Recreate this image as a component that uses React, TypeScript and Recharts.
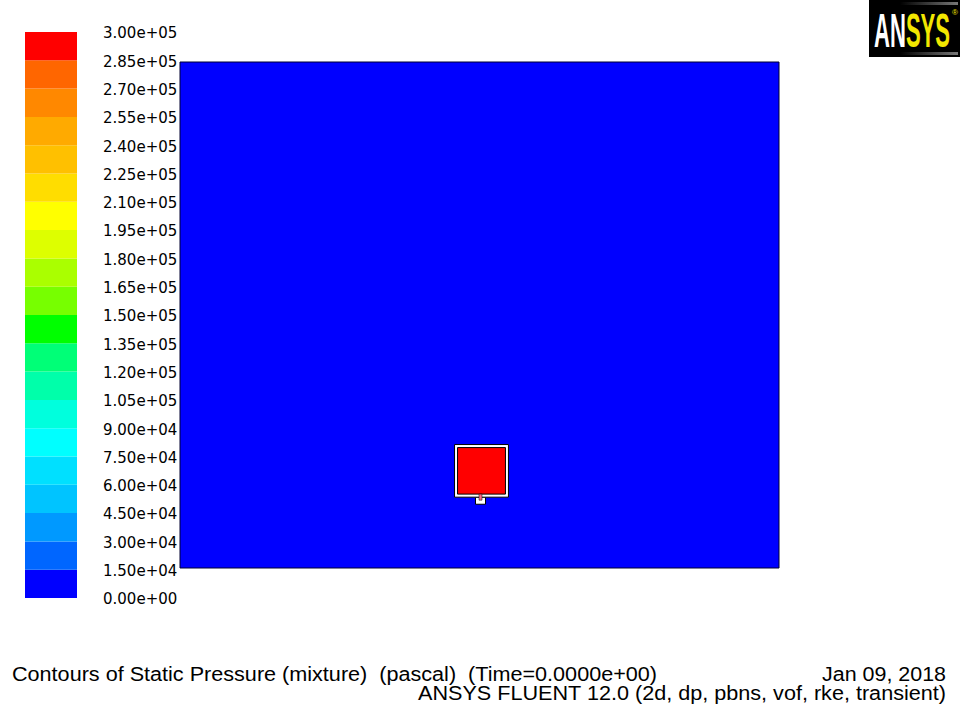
import React from 'react';
import { BarChart, Bar, XAxis, YAxis, ComposedChart, ReferenceArea } from 'recharts';

// contour levels (pascal), low to high
const LEVELS = [
  0, 15000, 30000, 45000, 60000, 75000, 90000, 105000, 120000, 135000, 150000,
  165000, 180000, 195000, 210000, 225000, 240000, 255000, 270000, 285000, 300000,
];
const LEVEL_LABELS = [
  '0.00e+00', '1.50e+04', '3.00e+04', '4.50e+04', '6.00e+04', '7.50e+04', '9.00e+04',
  '1.05e+05', '1.20e+05', '1.35e+05', '1.50e+05', '1.65e+05', '1.80e+05', '1.95e+05',
  '2.10e+05', '2.25e+05', '2.40e+05', '2.55e+05', '2.70e+05', '2.85e+05', '3.00e+05',
];
// band colours, lowest band first
const BAND_COLORS = [
  '#0000ff', '#0066ff', '#0099ff', '#00c4ff', '#00e0ff', '#00ffff', '#00ffdd',
  '#00ffaa', '#00ff77', '#00ff00', '#77ff00', '#aaff00', '#ddff00', '#ffff00',
  '#ffdd00', '#ffc000', '#ffaa00', '#ff8800', '#ff6600', '#ff0000',
];

// geometry (mm)
const TANK_X = [0, 600];
const TANK_Y = [0, 500];
const BLOCK_X = [275, 329];
const BLOCK_Y = [70, 122];
const BLOCK_INNER_X = [278, 326];
const BLOCK_INNER_Y = [73, 119];
const NOZZLE_X = [296, 306];
const NOZZLE_Y = [63, 70];
const NOZZLE_CORE_X = [299.5, 302.5];
const NOZZLE_CORE_Y = [67, 73];

const TANK_PRESSURE = 0;
const BLOCK_PRESSURE = 300000;

const TITLE = 'Contours of Static Pressure (mixture)  (pascal)  (Time=0.0000e+00)';
const DATE = 'Jan 09, 2018';
const VERSION = 'ANSYS FLUENT 12.0 (2d, dp, pbns, vof, rke, transient)';

const bandRow: Record<string, number | string> = { name: 'p' };
BAND_COLORS.forEach((_, i) => {
  bandRow[`b${i}`] = LEVELS[i + 1] - LEVELS[i];
});
const bandData = [bandRow];

const colorFor = (p: number) => {
  const idx = LEVELS.findIndex((l, i) => i < LEVELS.length - 1 && p >= l && p <= LEVELS[i + 1]);
  return BAND_COLORS[Math.min(Math.max(idx, 0), BAND_COLORS.length - 1)];
};

const labelFor = (v: number) => LEVEL_LABELS[LEVELS.indexOf(v)] ?? '';

const App: React.FC = () => {
  return (
    <div style={{ position: 'absolute', left: 0, top: 0, width: 960, height: 720, background: '#fff', overflow: 'hidden' }}>
      <div style={{ position: 'absolute', left: 0, top: 0 }}>
        <BarChart
          width={200}
          height={720}
          data={bandData}
          margin={{ top: 32, right: 0, bottom: 122, left: 25 }}
          barCategoryGap={0}
        >
          <XAxis dataKey="name" type="category" hide />
          <YAxis
            orientation="right"
            type="number"
            domain={[0, 300000]}
            ticks={LEVELS}
            interval={0}
            width={123}
            axisLine={false}
            tickLine={false}
            tickSize={0}
            tickMargin={26}
            tickFormatter={labelFor}
            tick={{ fill: '#000', fontSize: 15, fontFamily: 'DejaVu Sans', dy: 1 }}
          />
          {BAND_COLORS.map((c, i) => (
            <Bar key={i} dataKey={`b${i}`} stackId="s" fill={c} isAnimationActive={false} />
          ))}
        </BarChart>
      </div>

      <div style={{ position: 'absolute', left: 0, top: 0 }}>
        <ComposedChart width={960} height={720} margin={{ top: 62, right: 181, bottom: 152, left: 180 }}>
          <XAxis type="number" dataKey="x" domain={TANK_X} hide allowDataOverflow />
          <YAxis type="number" dataKey="y" domain={TANK_Y} hide allowDataOverflow />
          <ReferenceArea x1={TANK_X[0]} x2={TANK_X[1]} y1={TANK_Y[0]} y2={TANK_Y[1]}
            fill={colorFor(TANK_PRESSURE)} fillOpacity={1} stroke="#000030" strokeWidth={1} />
          <ReferenceArea x1={NOZZLE_X[0]} x2={NOZZLE_X[1]} y1={NOZZLE_Y[0]} y2={NOZZLE_Y[1]}
            fill="#ffffff" fillOpacity={1} stroke="#000" strokeWidth={1} />
          <ReferenceArea x1={BLOCK_X[0]} x2={BLOCK_X[1]} y1={BLOCK_Y[0]} y2={BLOCK_Y[1]}
            fill="#ffffff" fillOpacity={1} stroke="#000" strokeWidth={1} />
          <ReferenceArea x1={BLOCK_INNER_X[0]} x2={BLOCK_INNER_X[1]} y1={BLOCK_INNER_Y[0]} y2={BLOCK_INNER_Y[1]}
            fill={colorFor(BLOCK_PRESSURE)} fillOpacity={1} stroke="#000" strokeWidth={1} />
          <ReferenceArea x1={NOZZLE_CORE_X[0]} x2={NOZZLE_CORE_X[1]} y1={NOZZLE_CORE_Y[0]} y2={NOZZLE_CORE_Y[1]}
            fill="#ff6a8a" fillOpacity={1} stroke="#000" strokeWidth={0.5} />
        </ComposedChart>
      </div>

      <svg width={960} height={720} style={{ position: 'absolute', left: 0, top: 0, pointerEvents: 'none' }}>
        <defs>
          <linearGradient id="logoBar" x1="0" y1="0" x2="1" y2="0">
            <stop offset="0%" stopColor="#000" />
            <stop offset="100%" stopColor="#777" />
          </linearGradient>
        </defs>
        <rect x={869} y={0} width={91} height={57} fill="#000" />
        <rect x={900} y={2} width={58} height={3} fill="url(#logoBar)" />
        <rect x={900} y={52} width={58} height={3} fill="url(#logoBar)" />
        <g transform="translate(874,47) scale(0.46,1)">
          <text x={0} y={0} fontFamily="Liberation Sans" fontWeight="bold" fontSize={48}>
            <tspan fill="#fff">AN</tspan>
            <tspan fill="#f2e600">SYS</tspan>
          </text>
        </g>
        <text x={952} y={15} fontFamily="Liberation Sans" fontSize={8} fill="#f2e600">®</text>

        <g fontFamily="Liberation Sans" fontSize={20} fill="#000">
          <text x={12} y={681} textLength={645} lengthAdjust="spacingAndGlyphs" xmlSpace="preserve"
            style={{ whiteSpace: 'pre' }}>{TITLE}</text>
          <text x={822} y={681} textLength={124} lengthAdjust="spacingAndGlyphs">{DATE}</text>
          <text x={418} y={700} textLength={528} lengthAdjust="spacingAndGlyphs">{VERSION}</text>
        </g>
      </svg>
    </div>
  );
};

export default App;
